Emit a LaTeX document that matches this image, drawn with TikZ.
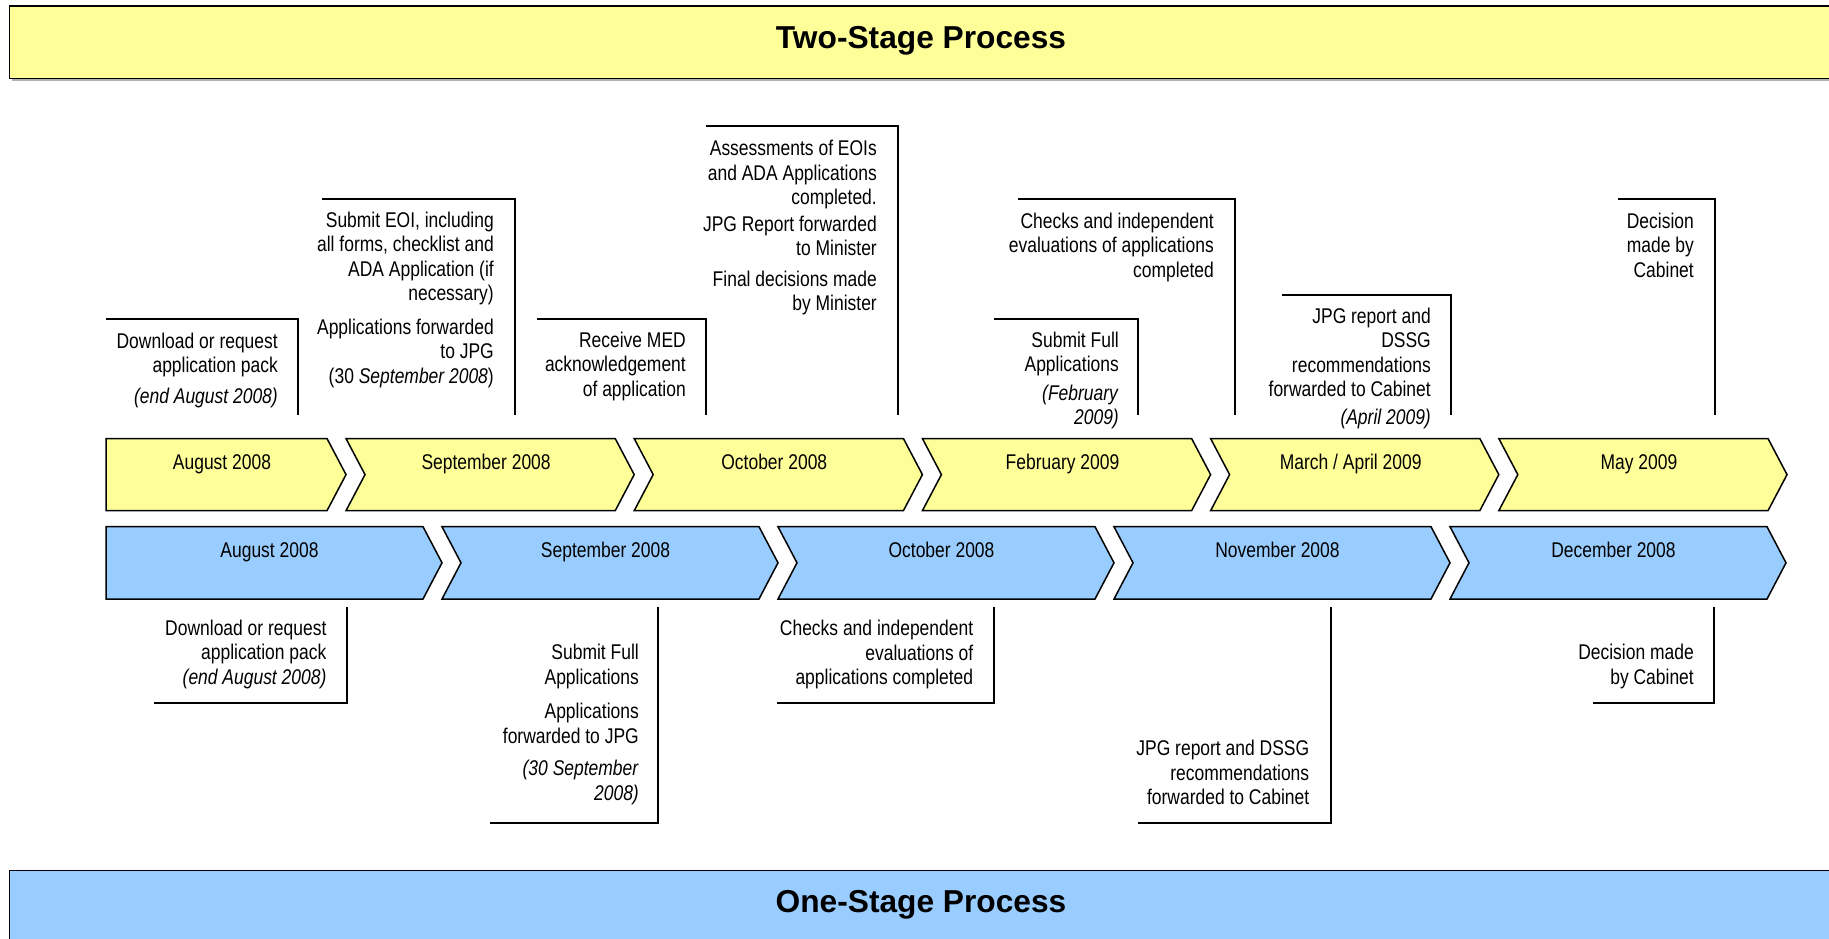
\documentclass[tikz,border=0pt]{standalone}
\usepackage{fontspec}
\setmainfont{Liberation Sans}
\newfontfamily\narrowsf[FakeStretch=0.82]{Liberation Sans}
\definecolor{twofill}{HTML}{FFFF99}
\definecolor{onefill}{HTML}{99CCFF}
\tikzset{
  chevron/.style={draw=black,line width=1.5pt,line join=miter},
  bracket/.style={draw=black,line width=2pt,line join=miter},
  monthlabel/.style={font=\narrowsf\fontsize{21.3}{24.5}\selectfont,anchor=base,inner sep=0pt},
  event/.style={font=\narrowsf\fontsize{21.3}{24.5}\selectfont,align=right,anchor=north east,inner sep=0pt},
  bannertitle/.style={font=\bfseries\fontsize{31.7}{36}\selectfont,anchor=base,inner sep=0pt}
}
\begin{document}
\begin{tikzpicture}[x=1pt,y=-1pt]
\useasboundingbox (0,0) rectangle (1829,938);
% banners
\fill[gray!60] (11.5,8.5) rectangle (1840,81);
\draw[fill=twofill,line width=1.5pt] (9.3,6) rectangle (1840,78.7);
\node[bannertitle] (twostage) at (921,48.3) {Two-Stage Process};
\fill[gray!60] (11.5,873) rectangle (1840,945);
\draw[fill=onefill,line width=1.5pt] (9.3,870.7) rectangle (1840,945);
\node[bannertitle] (onestage) at (921,912) {One-Stage Process};
% two-stage chevrons
\foreach \mon [count=\i from 0] in {August 2008,September 2008,October 2008,February 2009,March / April 2009,May 2009}{
  \pgfmathsetmacro\tipx{346+288.2*\i}
  \pgfmathsetmacro\leftx{ifthenelse(\i==0,106,\tipx-288.2)}
  \pgfmathsetmacro\notch{ifthenelse(\i==0,0,19)}
  \draw[chevron,fill=twofill] (\leftx,438.5) -- (\tipx-19,438.5) -- (\tipx,474.6)
    -- (\tipx-19,510.7) -- (\leftx,510.7) -- (\leftx+\notch,474.6) -- cycle;
  \node[monthlabel] (two\i) at ({(\leftx+\tipx)/2-4},469) {\mon};
}
% one-stage chevrons
\foreach \mon [count=\i from 0] in {August 2008,September 2008,October 2008,November 2008,December 2008}{
  \pgfmathsetmacro\leftx{106+336*\i}
  \pgfmathsetmacro\tipx{\leftx+336}
  \pgfmathsetmacro\notch{ifthenelse(\i==0,0,19)}
  \draw[chevron,fill=onefill] (\leftx,526.7) -- (\tipx-19,526.7) -- (\tipx,562.8)
    -- (\tipx-19,599) -- (\leftx,599) -- (\leftx+\notch,562.8) -- cycle;
  \node[monthlabel] (one\i) at ({(\leftx+\tipx)/2-4.5},557) {\mon};
}
% brackets
\foreach \xa/\ya/\xb in {106/318.5/298,322/198.5/514.5,537/319/706,706/126/898.3,
  994/318.5/1138.3,1018/198.5/1235,1282/295/1451,1618/198.5/1715}
  \draw[bracket] (\xa,\ya) -| (\xb,415);
\foreach \xa/\xb/\yb in {346.7/154/702.7,658.3/490/822.7,994/777/702.7,
  1330.6/1138.3/822.7,1714.3/1593/702.7}
  \draw[bracket] (\xa,606.7) |- (\xb,\yb);
% two-stage events
\node[event] (two-ev1) at (278,331) {\strut Download or request\\application pack\\[6pt]\textit{(end August 2008)}};
\node[event] (two-ev2) at (494,210) {\strut Submit EOI, including\\all forms, checklist and\\ADA Application (if\\necessary)\\[9pt]Applications forwarded\\to JPG\\(30 \textit{September 2008})};
\node[event] (two-ev3) at (686,330) {\strut Receive MED\\acknowledgement\\of application};
\node[event] (two-ev4) at (877,138.5) {\strut Assessments of EOIs\\and ADA Applications\\completed.\\[2pt]JPG Report forwarded\\to Minister\\[6pt]Final decisions made\\by Minister};
\node[event] (two-ev5) at (1119,330) {\strut Submit Full\\Applications\\[4pt]\textit{(February}\\\textit{2009)}};
\node[event] (two-ev6) at (1214,210.7) {\strut Checks and independent\\evaluations of applications\\completed};
\node[event] (two-ev7) at (1431,305.7) {\strut JPG report and\\DSSG\\recommendations\\forwarded to Cabinet\\[3pt]\textit{(April 2009)}};
\node[event] (two-ev8) at (1694,210.7) {\strut Decision\\made by\\Cabinet};
% one-stage events
\node[event] (one-ev1) at (326.6,618) {\strut Download or request\\application pack\\\textit{(end August 2008)}};
\node[event] (one-ev2) at (639,642.3) {\strut Submit Full\\Applications\\[10pt]Applications\\forwarded to JPG\\[8pt]\textit{(30 September}\\\textit{2008)}};
\node[event] (one-ev3) at (973.4,618.3) {\strut Checks and independent\\evaluations of\\applications completed};
\node[event] (one-ev4) at (1309.4,738.3) {\strut JPG report and DSSG\\recommendations\\forwarded to Cabinet};
\node[event] (one-ev5) at (1694,642.3) {\strut Decision made\\by Cabinet};
\end{tikzpicture}
\end{document}
